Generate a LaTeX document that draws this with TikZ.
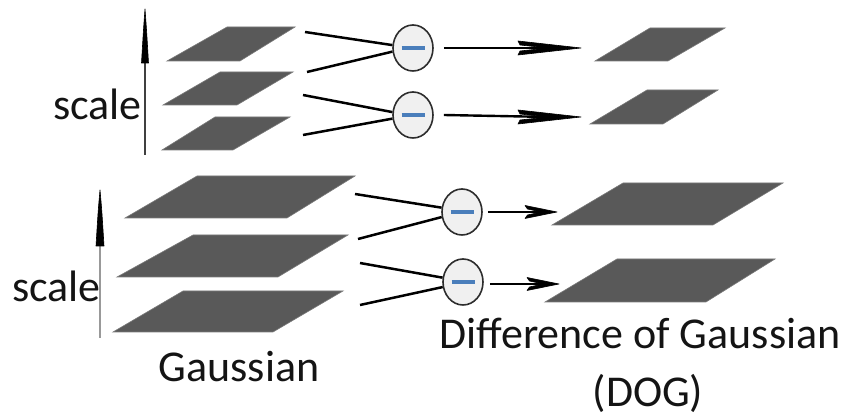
\documentclass[tikz,border=0pt]{standalone}
\usepackage{fontspec}
\setmainfont{Carlito}
\usetikzlibrary{shapes.geometric}
\definecolor{planegray}{RGB}{89,89,89}
\definecolor{opfill}{RGB}{240,240,240}
\definecolor{opline}{RGB}{45,45,45}
\definecolor{minusblue}{RGB}{74,126,187}
\tikzset{
  plane/.style={fill=planegray, draw=planegray!80, line width=0.6pt, line join=miter},
  op/.style={ellipse, draw=opline, fill=opfill, line width=1.6pt, minimum width=40pt, minimum height=46pt, inner sep=0pt},
  minusbar/.style={draw=minusblue, line width=3.5pt},
  feed/.style={draw=black, line width=2.5pt},
  shaft/.style={draw=black, line width=2.4pt},
  head/.style={fill=black, draw=black, line width=0.6pt, line join=round},
  txt/.style={font=\fontsize{44}{52}\selectfont, text=black!92, inner sep=0pt}
}
\begin{document}
\begin{tikzpicture}[x=1pt,y=-1pt]
\useasboundingbox (0,0) rectangle (847,419);

% --- upper octave: Gaussian planes
\fill[plane] (227,27) -- (295,27) -- (240,61) -- (167,61) -- cycle;
\fill[plane] (220,72) -- (293,72) -- (237,105) -- (163,105) -- cycle;
\fill[plane] (215,117) -- (290,117) -- (233,150) -- (162,150) -- cycle;
% --- upper octave: DoG planes
\fill[plane] (650,28) -- (725,28) -- (668,61) -- (595,61) -- cycle;
\fill[plane] (647,90) -- (718,90) -- (663,124) -- (590,124) -- cycle;

% --- lower octave: Gaussian planes
\fill[plane] (197,176) -- (355,176) -- (287,218) -- (125,218) -- cycle;
\fill[plane] (193,235) -- (348,235) -- (278,277) -- (117,277) -- cycle;
\fill[plane] (183,291) -- (343,291) -- (273,332) -- (113,332) -- cycle;
% --- lower octave: DoG planes
\fill[plane] (623,183) -- (783,183) -- (713,225) -- (552,225) -- cycle;
\fill[plane] (617,259) -- (775,259) -- (706,302) -- (545,302) -- cycle;

% scale axes: shaft plus a long narrow head
\coordinate (s1b) at (145,155);
\coordinate (s1t) at (145,9);
\draw[draw=black!75, line width=1.5pt] (s1b) -- ([yshift=-40pt]s1t);
\fill[head] (s1t) .. controls ++(1.5,20) .. ++(3.5,54) -- ++(-7,0) .. controls ++(2,-34) .. (s1t) -- cycle;
\coordinate (s2b) at (100,338);
\coordinate (s2t) at (100,190);
\draw[draw=black!40, line width=2pt] (s2b) -- ([yshift=-40pt]s2t);
\fill[head] (s2t) .. controls ++(1.8,20) .. ++(4,56) -- ++(-8,0) .. controls ++(2.2,-36) .. (s2t) -- cycle;

% subtraction operators
\node[op] (m1) at (413,48) {};
\node[op] (m2) at (413,115) {};
\node[op] (m3) at (462,212) {};
\node[op] (m4) at (463,282) {};
\foreach \m in {m1,m2,m3,m4}
  \draw[minusbar] ([xshift=-11.5pt]\m.center) -- ([xshift=11.5pt]\m.center);

% inputs from adjacent Gaussian levels
\coordinate (g1) at (305,32);  \coordinate (g2) at (307,72);
\coordinate (g3) at (303,95);  \coordinate (g4) at (303,135);
\coordinate (g5) at (355,194); \coordinate (g6) at (358,239);
\coordinate (g7) at (360,263); \coordinate (g8) at (360,305);
\draw[feed] (g1) -- (m1.172);
\draw[feed] (g2) -- (m1.190);
\draw[feed] (g3) -- (m2.172);
\draw[feed] (g4) -- (m2.190);
\draw[feed] (g5) -- (m3.168);
\draw[feed] (g6) -- (m3.194);
\draw[feed] (g7) -- (m4.168);
\draw[feed] (g8) -- (m4.194);

% outputs to DoG levels: shaft, then a barbed head ending at the target point
\coordinate (d1) at (581,48);
\coordinate (d2) at (581,117);
\coordinate (d3) at (557,212);
\coordinate (d4) at (559,284);
\draw[shaft] ([xshift=10pt]m1.east) -- ([xshift=-30pt]d1);
\draw[shaft] ([xshift=10pt]m2.east) -- ([xshift=-30pt]d2);
\draw[shaft] ([xshift=5pt]m3.east) -- ([xshift=-14pt]d3);
\draw[shaft] ([xshift=6pt,yshift=-2pt]m4.east) -- ([xshift=-14pt]d4);
\foreach \d in {d1,d2}
  \fill[head] (\d) -- ++(-63,-7) -- ++(2,4) -- ++(28,3) -- ++(-28,3) -- ++(-2,4) -- cycle;
\foreach \d in {d3,d4}
  \fill[head] (\d) -- ++(-32,-6.5) -- ++(2.5,3.5) -- ++(13.5,3) -- ++(-13.5,3) -- ++(-2.5,3.5) -- cycle;

% labels
\node[txt, anchor=base west] (sc1) at (53,120) {scale};
\node[txt, anchor=base west] (sc2) at (12,302) {scale};
\node[txt, anchor=base] (gl) at (239,382) {Gaussian};
\node[txt, anchor=base] (dl) at (640,349) {Difference of Gaussian};
\node[txt, anchor=base] (dogl) at (648,407) {(DOG)};
\end{tikzpicture}
\end{document}
